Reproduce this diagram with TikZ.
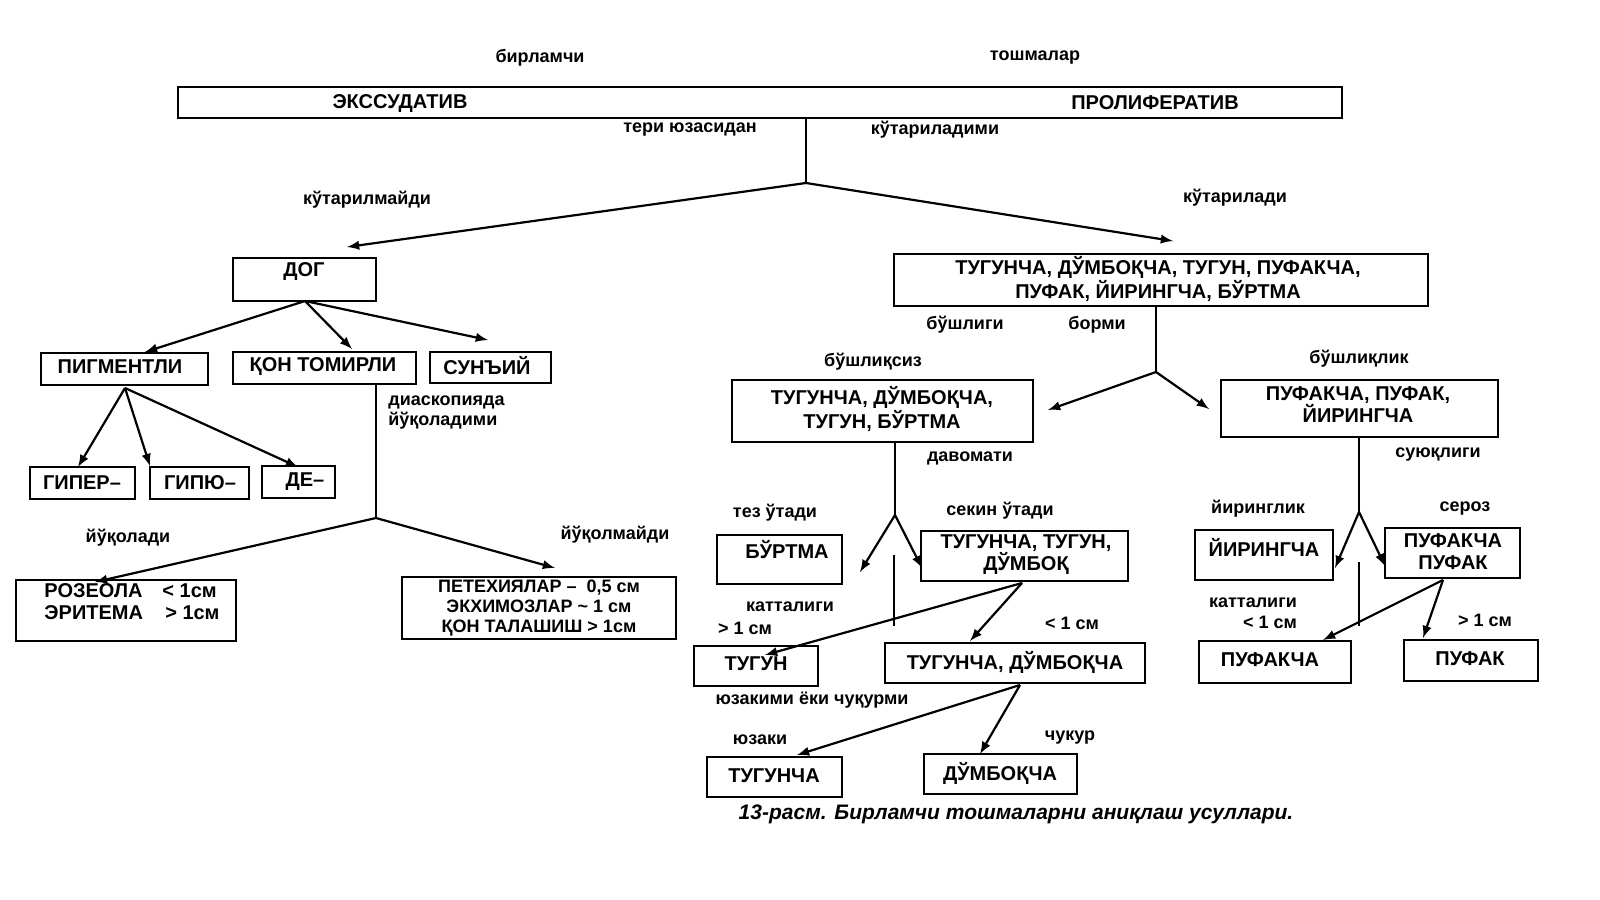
\documentclass[tikz,border=0pt]{standalone}
\usepackage{fontspec}
\setmainfont{Liberation Sans}
\begin{document}
\begin{tikzpicture}[x=0.5pt,y=-0.5pt,
 bx/.style={draw,line width=1.2pt},
 t/.style={font=\bfseries\fontsize{10}{11}\selectfont,inner sep=0pt,align=center},
 lb/.style={font=\bfseries\fontsize{9}{10}\selectfont,inner sep=0pt,align=left},
 ar/.style={line width=1.1pt,-latex}, ln/.style={line width=1.1pt}]
\useasboundingbox (0,0) rectangle (1600,899);
% top
\node[lb] (l1) at (540,58) {бирламчи};
\node[lb] (l2) at (1035,58) {тошмалар};
\draw[bx] (178,87) rectangle (1342,118);
\node[t] (ex) at (400,104) {ЭКССУДАТИВ};
\node[t] (pr) at (1155,103) {ПРОЛИФЕРАТИВ};
\node[lb] (l3) at (690,130) {тери юзасидан};
\node[lb] (l4) at (935,130) {кўтариладими};
\coordinate (a0) at (806,118); \coordinate (a1) at (806,183);
\coordinate (a2) at (347,247); \coordinate (a3) at (1173,241);
\draw[ln] (a0)--(a1); \draw[ar] (a1)--(a2); \draw[ar] (a1)--(a3);
\node[lb] (l5) at (367,200) {кўтарилмайди};
\node[lb] (l6) at (1235,198) {кўтарилади};
% left
\draw[bx] (233,258) rectangle (376,301); \node[t] (dog) at (304,272) {ДОГ};
\coordinate (d0) at (305,301);
\draw[bx] (41,353) rectangle (208,385); \node[t] (pig) at (120,367) {ПИГМЕНТЛИ};
\draw[bx] (233,352) rectangle (416,384); \node[t] (kon) at (323,367) {ҚОН ТОМИРЛИ};
\draw[bx] (430,352) rectangle (551,383); \node[t] (sun) at (487,366) {СУНЪИЙ};
\coordinate (d1) at (145,352); \coordinate (d2) at (352,349); \coordinate (d3) at (488,340);
\draw[ar] (d0)--(d1); \draw[ar] (d0)--(d2); \draw[ar] (d0)--(d3);
\coordinate (p0) at (125,388);
\draw[bx] (30,467) rectangle (135,499); \node[t] (gip) at (82,483) {ГИПЕР–};
\draw[bx] (150,467) rectangle (249,499); \node[t] (gipo) at (200,483) {ГИПЮ–};
\draw[bx] (262,466) rectangle (335,498); \node[t] (de) at (305,482) {ДЕ–};
\coordinate (p1) at (78,467); \coordinate (p2) at (150,466); \coordinate (p3) at (298,467);
\draw[ar] (p0)--(p1); \draw[ar] (p0)--(p2); \draw[ar] (p0)--(p3);
\coordinate (k0) at (376,384); \coordinate (k1) at (376,518);
\coordinate (k2) at (95,582); \coordinate (k3) at (555,568);
\draw[ln] (k0)--(k1); \draw[ar] (k1)--(k2); \draw[ar] (k1)--(k3);
\node[lb,anchor=west] (l7) at (388,413) {диаскопияда\\йўқоладими};
\node[lb] (l8) at (128,538) {йўқолади};
\node[lb] (l9) at (615,535) {йўқолмайди};
\draw[bx] (16,580) rectangle (236,641);
\node[t,align=left] (roz) at (132,602) {РОЗЕОЛА \ \ \,< 1см\\ЭРИТЕМА \ \ \ > 1см};
\draw[bx] (402,577) rectangle (676,639);
\node[t,font=\bfseries\fontsize{9}{10.2}\selectfont] (pet) at (539,608) {ПЕТЕХИЯЛАР – \ 0,5 см\\ЭКХИМОЗЛАР \textasciitilde\ 1 см\\ҚОН ТАЛАШИШ > 1см};
% right
\draw[bx] (894,254) rectangle (1428,306);
\node[t] (big) at (1158,279) {ТУГУНЧА, ДЎМБОҚЧА, ТУГУН, ПУФАКЧА,\\ПУФАК, ЙИРИНГЧА, БЎРТМА};
\coordinate (b0) at (1156,306); \coordinate (b1) at (1156,372);
\coordinate (b2) at (1048,410); \coordinate (b3) at (1209,409);
\draw[ln] (b0)--(b1); \draw[ar] (b1)--(b2); \draw[ar] (b1)--(b3);
\node[lb] (l10) at (965,325) {бўшлиги};
\node[lb] (l11) at (1097,325) {борми};
\node[lb] (l12) at (873,362) {бўшлиқсиз};
\node[lb] (l13) at (1359,359) {бўшлиқлик};
\draw[bx] (732,380) rectangle (1033,442);
\node[t] (s1) at (882,409) {ТУГУНЧА, ДЎМБОҚЧА,\\ТУГУН, БЎРТМА};
\draw[bx] (1221,380) rectangle (1498,437);
\node[t] (s2) at (1358,405) {ПУФАКЧА, ПУФАК,\\ЙИРИНГЧА};
\coordinate (c0) at (895,442); \coordinate (c1) at (895,515);
\coordinate (c2) at (860,572); \coordinate (c3) at (922,568);
\draw[ln] (c0)--(c1); \draw[ar] (c1)--(c2); \draw[ar] (c1)--(c3);
\coordinate (c4) at (894,555); \coordinate (c5) at (894,626); \draw[ln] (c4)--(c5);
\node[lb] (l14) at (970,458) {давомати};
\node[lb] (l15) at (775,513) {тез ўтади};
\node[lb] (l16) at (1000,511) {секин ўтади};
\draw[bx] (717,535) rectangle (842,584); \node[t] (bur) at (787,550) {БЎРТМА};
\draw[bx] (921,531) rectangle (1128,581); \node[t] (ttd) at (1026,555) {ТУГУНЧА, ТУГУН,\\ДЎМБОҚ};
\coordinate (e0) at (1022,583); \coordinate (e1) at (765,655); \coordinate (e2) at (970,641);
\draw[ar] (e0)--(e1); \draw[ar] (e0)--(e2);
\node[lb] (l17) at (790,607) {катталиги};
\node[lb] (l18) at (745,628) {> 1 см};
\node[lb] (l19) at (1072,623) {< 1 см};
\draw[bx] (694,646) rectangle (818,686); \node[t] (tug) at (756,664) {ТУГУН};
\draw[bx] (885,643) rectangle (1145,683); \node[t] (td) at (1015,662) {ТУГУНЧА, ДЎМБОҚЧА};
\node[lb] (l20) at (812,700) {юзакими ёки чуқурми};
\coordinate (f0) at (1020,685); \coordinate (f1) at (797,755); \coordinate (f2) at (980,754);
\draw[ar] (f0)--(f1); \draw[ar] (f0)--(f2);
\node[lb] (l21) at (760,740) {юзаки};
\node[lb] (l22) at (1070,738) {чукур};
\draw[bx] (707,757) rectangle (842,797); \node[t] (tg2) at (774,776) {ТУГУНЧА};
\draw[bx] (924,754) rectangle (1077,794); \node[t] (dm) at (1000,773) {ДЎМБОҚЧА};
\node[font=\bfseries\itshape\fontsize{10.5}{12}\selectfont,inner sep=0pt] (cap) at (1016,814) {13-расм. Бирламчи тошмаларни аниқлаш усуллари.};
\coordinate (g0) at (1359,437); \coordinate (g1) at (1359,512);
\coordinate (g2) at (1335,568); \coordinate (g3) at (1385,566);
\draw[ln] (g0)--(g1); \draw[ar] (g1)--(g2); \draw[ar] (g1)--(g3);
\coordinate (g4) at (1359,562); \coordinate (g5) at (1359,626); \draw[ln] (g4)--(g5);
\node[lb] (l23) at (1438,455) {суюқлиги};
\node[lb] (l24) at (1258,509) {йиринглик};
\node[lb] (l25) at (1465,509) {сероз};
\draw[bx] (1195,530) rectangle (1333,580); \node[t] (yir) at (1264,547) {ЙИРИНГЧА};
\draw[bx] (1385,528) rectangle (1520,578); \node[t] (pp) at (1453,552) {ПУФАКЧА\\ПУФАК};
\coordinate (h0) at (1443,580); \coordinate (h1) at (1323,640); \coordinate (h2) at (1423,638);
\draw[ar] (h0)--(h1); \draw[ar] (h0)--(h2);
\node[lb] (l26) at (1253,603) {катталиги};
\node[lb] (l27) at (1270,622) {< 1 см};
\node[lb] (l28) at (1485,620) {> 1 см};
\draw[bx] (1199,641) rectangle (1351,683); \node[t] (puf1) at (1270,660) {ПУФАКЧА};
\draw[bx] (1404,640) rectangle (1538,681); \node[t] (puf2) at (1470,659) {ПУФАК};
\end{tikzpicture}
\end{document}
